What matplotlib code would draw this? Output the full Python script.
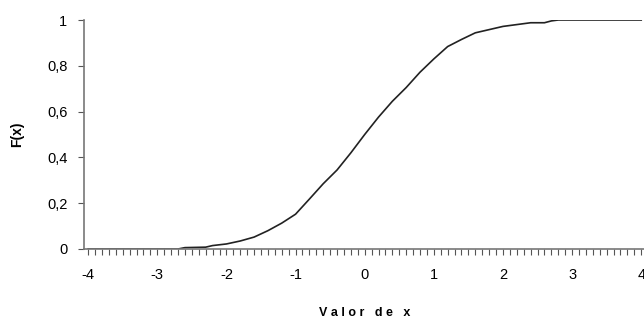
import numpy as np
import matplotlib
matplotlib.use("Agg")
import matplotlib.pyplot as plt
from matplotlib.ticker import MultipleLocator, FuncFormatter

plt.rcParams["font.family"] = ["Liberation Sans", "DejaVu Sans"]
plt.rcParams["axes.unicode_minus"] = False

x_vals = [-4.0, -2.7, -2.6, -2.3, -2.2, -2.0, -1.8, -1.6, -1.4, -1.2, -1.0,
          -0.8, -0.6, -0.4, -0.2, 0.0, 0.2, 0.4, 0.6, 0.8, 1.0, 1.2, 1.4,
          1.6, 1.8, 2.0, 2.2, 2.4, 2.6, 2.7, 2.8, 4.0]
F_vals = [0.0, 0.0, 0.006, 0.008, 0.015, 0.022, 0.035, 0.052, 0.08, 0.113, 0.152,
          0.218, 0.285, 0.345, 0.42, 0.50, 0.576, 0.645, 0.705, 0.772, 0.83, 0.884, 0.915,
          0.944, 0.958, 0.972, 0.98, 0.988, 0.988, 0.996, 1.0, 1.0]
y_ticks = [0, 0.2, 0.4, 0.6, 0.8, 1]
x_ticks = [-4, -3, -2, -1, 0, 1, 2, 3, 4]

fig = plt.figure(figsize=(6.44, 3.2), dpi=100)
ax = fig.add_axes([84/644, 71/320, 1 - 84/644, 229/320])

ax.plot(x_vals, F_vals, color="#222222", lw=1.2)

ax.set_xlim(-4.06, 4.04)
ax.set_ylim(0, 1)
ax.set_xticks(x_ticks)
ax.xaxis.set_minor_locator(MultipleLocator(0.1))
ax.set_yticks(y_ticks)
ax.yaxis.set_major_formatter(FuncFormatter(lambda v, p: ("%g" % v).replace(".", ",")))

for s in ["top", "right"]:
    ax.spines[s].set_visible(False)
for s in ["left", "bottom"]:
    ax.spines[s].set_color("#777777")
    ax.spines[s].set_linewidth(1.2)

ax.tick_params(axis="x", which="both", direction="out", length=4, width=0.8,
               color="#555555", labelsize=10.5, pad=10)
ax.tick_params(axis="y", direction="out", length=4, width=0.8,
               color="#555555", labelsize=10.5, pad=8)

ax.set_xlabel("V a l o r   d e   x", fontsize=9, fontweight="bold")
ax.xaxis.set_label_coords((365 - 84) / 560, -58 / 229)
ax.set_ylabel("F(x)", fontsize=10, fontweight="bold")
ax.yaxis.set_label_coords(-(84 - 24) / 560, 0.5)

fig.savefig("out.png", dpi=100)
